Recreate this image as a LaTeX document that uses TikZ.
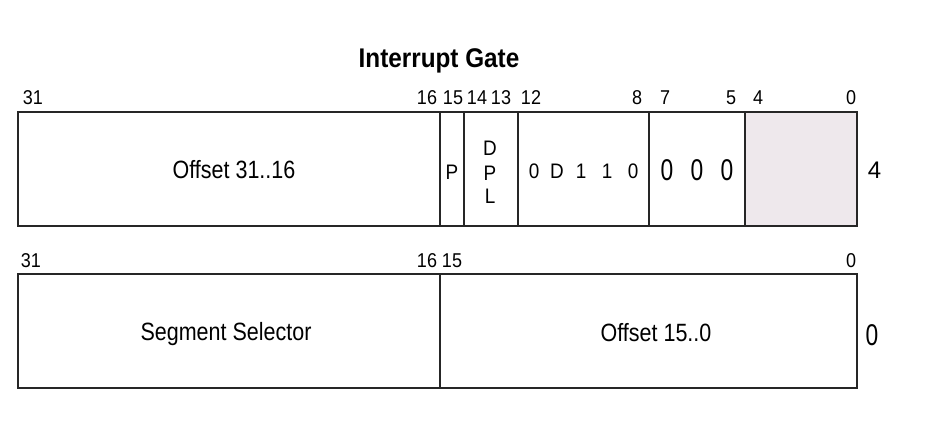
\documentclass[tikz,border=0pt]{standalone}
\usepackage{fontspec}
\setmainfont{Liberation Sans}
\newfontfamily\nar[FakeStretch=0.86]{Liberation Sans}
\newfontfamily\narb[FakeStretch=0.9]{Liberation Sans}
\newfontfamily\narc[FakeStretch=0.76]{Liberation Sans}
\definecolor{gatefill}{RGB}{238,232,236}
\begin{document}
\begin{tikzpicture}[x=1pt,y=-1pt,
  box/.style={draw=black!85,line width=1.3pt},
  bit/.style={inner sep=0pt,anchor=base,font=\narb\fontsize{20}{20}\selectfont},
  lbl/.style={inner sep=0pt,anchor=base,font=\nar\fontsize{25}{25}\selectfont},
  sml/.style={inner sep=0pt,anchor=base,font=\narb\fontsize{21}{21}\selectfont},
  big/.style={inner sep=0pt,anchor=base,font=\narc\fontsize{30}{30}\selectfont}]
\useasboundingbox (0,0) rectangle (945,431);
% title
\node[inner sep=0pt,anchor=base,font=\bfseries\narb\fontsize{27}{27}\selectfont] (title) at (439,67) {Interrupt Gate};
% top row
\fill[gatefill] (745,112) rectangle (857,226);
\draw[box] (18,112) rectangle (857,226);
\foreach \xx in {440,464,518,649,745} \draw[box] (\xx,112) -- (\xx,226);
\node[bit] (t31) at (33,104) {31};
\node[bit] (t16) at (427,104) {16};
\node[bit] (t15) at (453,104) {15};
\node[bit] (t14) at (477,104) {14};
\node[bit] (t13) at (501,104) {13};
\node[bit] (t12) at (531,104) {12};
\node[bit] (t8) at (637,104) {8};
\node[bit] (t7) at (665,104) {7};
\node[bit] (t5) at (731,104) {5};
\node[bit] (t4) at (758,104) {4};
\node[bit] (t0) at (851,104) {0};
\node[lbl] (off1) at (234,178) {Offset 31..16};
\node[sml] (p) at (452,179) {P};
\node[sml] (d1) at (490,155) {D};
\node[sml] (d2) at (490,180) {P};
\node[sml] (d3) at (490,203) {L};
\node[sml] (b12) at (534,178) {0};
\node[sml] (b11) at (557,178) {D};
\node[sml] (b10) at (581,178) {1};
\node[sml] (b9) at (607,178) {1};
\node[sml] (b8) at (633,178) {0};
\node[big] (b7) at (667,180) {0};
\node[big] (b6) at (697,180) {0};
\node[big] (b5) at (727,180) {0};
\node[inner sep=0pt,anchor=base,font=\fontsize{24}{24}\selectfont] (w4) at (874.5,178) {4};
% bottom row
\draw[box] (18,274) rectangle (857,388);
\draw[box] (440,274) -- (440,388);
\node[bit] (u31) at (31,267) {31};
\node[bit] (u16) at (427,267) {16};
\node[bit] (u15) at (452,267) {15};
\node[bit] (u0) at (851,267) {0};
\node[lbl] (seg) at (226,340) {Segment Selector};
\node[lbl] (off0) at (656,341) {Offset 15..0};
\node[inner sep=0pt,anchor=base,font=\narc\fontsize{30}{30}\selectfont] (w0) at (872,345) {0};
\end{tikzpicture}
\end{document}
